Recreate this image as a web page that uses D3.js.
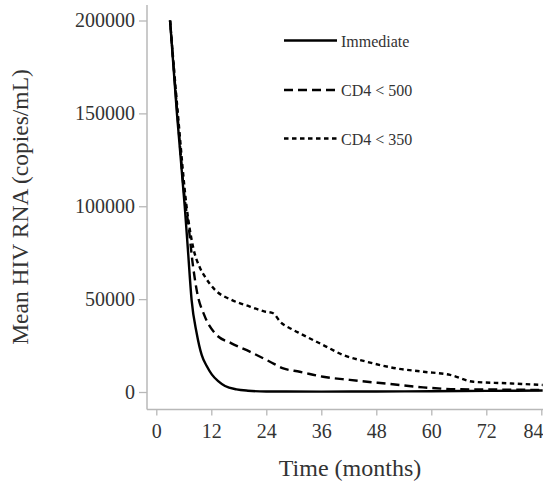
<!DOCTYPE html>
<html>
<head>
<meta charset="utf-8">
<script src="https://cdn.jsdelivr.net/npm/d3@7"></script>
<style>
  body { margin: 0; background: #fff; }
</style>
</head>
<body>
<div id="chart"></div>
<script>
// values (months, copies/mL)
var immMonths = [3, 4.5, 6.2, 6.9, 7.7, 8.8, 9.9, 11, 12.1, 13.5, 15, 17.5, 20, 24, 36, 48, 60, 72, 84.3];
var immValues = [200000, 150000, 100000, 76500, 49600, 31800, 20000, 14000, 9500, 5800, 3200, 1400, 700, 300, 200, 300, 400, 600, 800];

var cd500Months = [3, 4.6, 6.4, 6.9, 8.0, 8.8, 10.6, 12.8, 16.4, 20.4, 24.8, 27.7, 31.3, 36.4, 42.2, 51, 58.2, 65.5, 75, 84.3];
var cd500Values = [200000, 150000, 100000, 92000, 68000, 55000, 40600, 31600, 26200, 21700, 16300, 12700, 10900, 8200, 6500, 4300, 2500, 1500, 1300, 1100];

var cd350Months = [3, 4.7, 6.6, 8.0, 9.5, 10.6, 12.8, 16.4, 20.4, 23.7, 25.5, 27, 29.9, 31.3, 36.4, 40.8, 45.9, 52.4, 58.3, 64.1, 69.2, 76.5, 84.3];
var cd350Values = [200000, 150000, 100000, 78300, 67000, 62100, 55000, 49600, 46000, 43300, 42400, 37900, 33400, 31600, 25300, 19900, 16300, 12700, 10900, 9200, 5500, 4700, 3800];

var seriesNames = ["Immediate", "CD4 < 500", "CD4 < 350"];
var xTicks = [0, 12, 24, 36, 48, 60, 72, 84];
var yTicks = [0, 50000, 100000, 150000, 200000];

var width = 543, height = 485;
var serif = "'Liberation Serif', 'Times New Roman', serif";
var axisColor = "#b8b8b8";
var textColor = "#333";
var dashes = [null, "9,5", "4.5,3.5"];

var svg = d3.select("#chart").append("svg")
    .attr("width", width)
    .attr("height", height)
    .attr("font-family", serif);

var x = d3.scaleLinear().domain([0, 84]).range([156.3, 541.3]);
var y = d3.scaleLinear().domain([0, 200000]).range([392, 20.5]);

// axis lines (they stand off from the zero point like the original)
svg.append("line")
    .attr("x1", 147).attr("x2", 147).attr("y1", 5).attr("y2", 409.5)
    .attr("stroke", axisColor).attr("stroke-width", 1.5);
svg.append("line")
    .attr("x1", 147).attr("x2", 543).attr("y1", 409.5).attr("y2", 409.5)
    .attr("stroke", axisColor).attr("stroke-width", 1.5);

var yAxis = svg.append("g")
    .attr("transform", "translate(147,0)")
    .call(d3.axisLeft(y).tickValues(yTicks).tickSize(8).tickPadding(4).tickFormat(d3.format("d")))
    .attr("font-family", serif)
    .attr("font-size", 20);
yAxis.select(".domain").remove();
yAxis.selectAll(".tick line").attr("stroke", axisColor).attr("stroke-width", 1.3);
yAxis.selectAll(".tick text").attr("fill", textColor);

var xAxis = svg.append("g")
    .attr("transform", "translate(0,409.5)")
    .call(d3.axisBottom(x).tickValues(xTicks).tickSize(6).tickPadding(8))
    .attr("font-family", serif)
    .attr("font-size", 20);
xAxis.select(".domain").remove();
xAxis.selectAll(".tick line").attr("stroke", axisColor).attr("stroke-width", 1.3);
xAxis.selectAll(".tick text").attr("fill", textColor);
// last label sits against the right edge, as in the original
xAxis.selectAll(".tick text").filter(function(d){ return d == 84; })
    .attr("text-anchor", "end")
    .attr("x", width - x(84));

// titles
svg.append("text")
    .attr("x", 350).attr("y", 476)
    .attr("text-anchor", "middle")
    .attr("fill", textColor)
    .attr("font-size", 24)
    .text("Time (months)");

svg.append("text")
    .attr("transform", "translate(28,207) rotate(-90)")
    .attr("text-anchor", "middle")
    .attr("fill", textColor)
    .attr("font-size", 23.5)
    .text("Mean HIV RNA (copies/mL)");

// curves
var line = d3.line()
    .x(function(d){ return x(d[0]); })
    .y(function(d){ return y(d[1]); })
    .curve(d3.curveMonotoneX);

var allSeries = [
    d3.zip(immMonths, immValues),
    d3.zip(cd500Months, cd500Values),
    d3.zip(cd350Months, cd350Values)
];

// draw the dotted one first so the solid line sits on top
for(var i = allSeries.length - 1; i >= 0; i--){
    svg.append("path")
        .attr("d", line(allSeries[i]))
        .attr("fill", "none")
        .attr("stroke", "#000")
        .attr("stroke-width", 2.4)
        .attr("stroke-dasharray", dashes[i]);
}

// legend
var legendY = [40.5, 90, 138.5];
for(var i = 0; i < seriesNames.length; i++){
    svg.append("line")
        .attr("x1", 284).attr("x2", 337)
        .attr("y1", legendY[i]).attr("y2", legendY[i])
        .attr("stroke", "#000")
        .attr("stroke-width", 2.4)
        .attr("stroke-dasharray", dashes[i]);
    svg.append("text")
        .attr("x", 341)
        .attr("y", legendY[i] + 6)
        .attr("fill", textColor)
        .attr("font-size", 16)
        .text(seriesNames[i]);
}
</script>
</body>
</html>
